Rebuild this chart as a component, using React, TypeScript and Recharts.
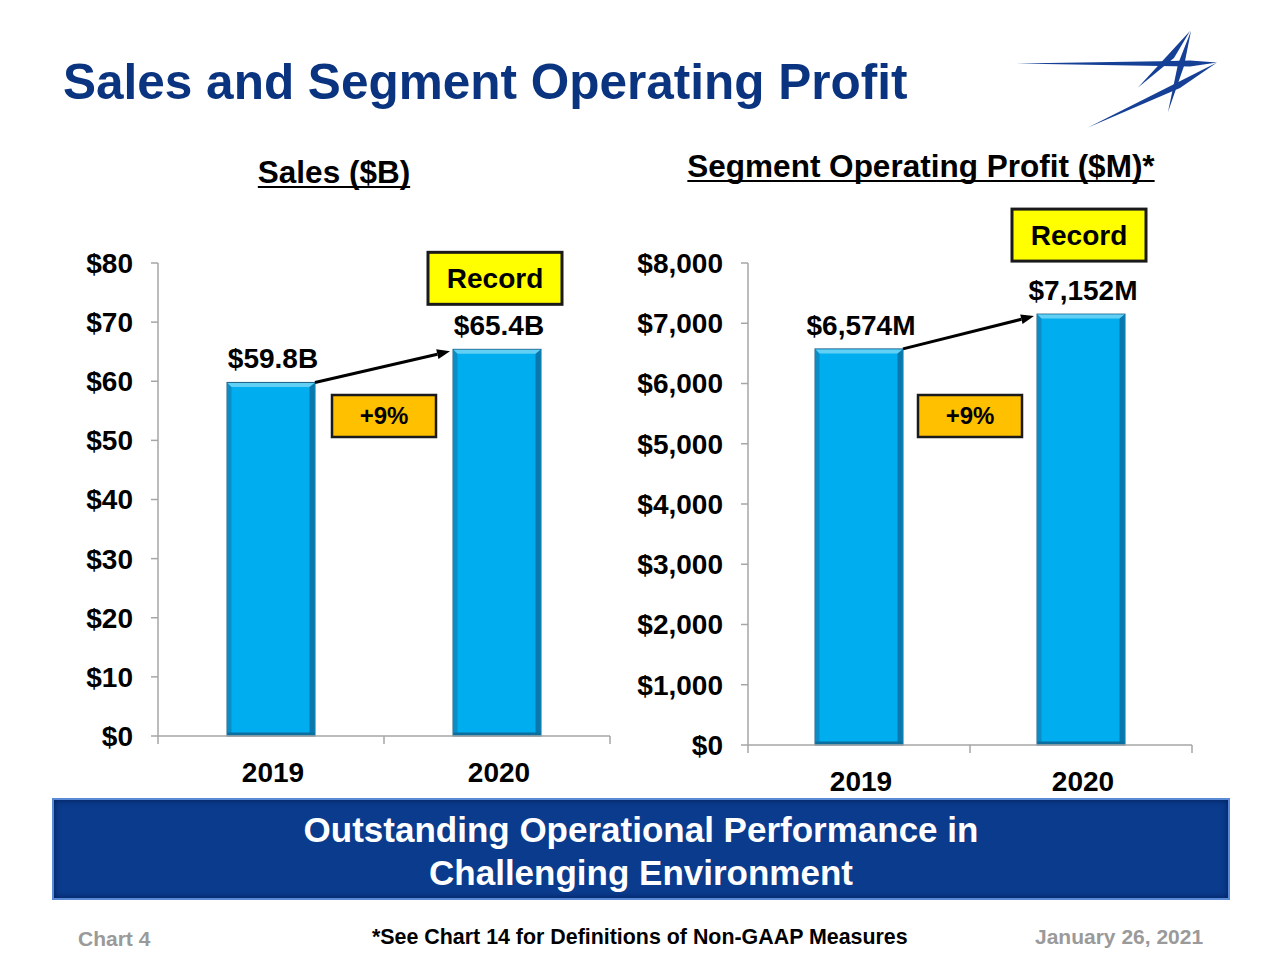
import React from 'react';
import { BarChart, Bar, XAxis, YAxis, LabelList } from 'recharts';

const FONT = '"Liberation Sans", Arial, Helvetica, sans-serif';

// --- data ---
const years = ['2019', '2020'];

const salesValues = [59.8, 65.4];
const salesLabels = ['$59.8B', '$65.4B'];
const salesTicks = [0, 10, 20, 30, 40, 50, 60, 70, 80];

const profitValues = [6574, 7152];
const profitLabels = ['$6,574M', '$7,152M'];
const profitTicks = [0, 1000, 2000, 3000, 4000, 5000, 6000, 7000, 8000];

const growthLabel = '+9%';
const recordLabel = 'Record';

const AXIS = '#a6a6a6';

type Panel = {
  values: number[];
  labels: string[];
  ticks: number[];
  fmt: (v: number) => string;
  left: number;
  margin: { top: number; right: number; bottom: number; left: number };
  band: number;
  recordGap: number;
};

const panels: Panel[] = [
  {
    values: salesValues,
    labels: salesLabels,
    ticks: salesTicks,
    fmt: (v) => `$${v}`,
    left: 0,
    margin: { top: 263, right: 30, bottom: 14, left: 58 },
    band: 226,
    recordGap: 45,
  },
  {
    values: profitValues,
    labels: profitLabels,
    ticks: profitTicks,
    fmt: (v) => `$${v.toLocaleString('en-US')}`,
    left: 600,
    margin: { top: 263, right: 48, bottom: 5, left: 48 },
    band: 222,
    recordGap: 53,
  },
];

// bar with bevelled edges; the first bar also draws the growth arrow and badge
function BevelBar(props: any) {
  const { x, y, width, height, index, payload, rows, band } = props;
  const next = rows[index + 1];
  let extra = null;
  if (next) {
    const base = y + height;
    const nextTop = base - (next.value * height) / payload.value;
    const nextLeft = x + band;
    const x1 = x + width;
    const y1 = y;
    const x2 = nextLeft - 3;
    const y2 = nextTop + 2;
    const ang = Math.atan2(y2 - y1, x2 - x1);
    const hl = 13;
    const hw = 5;
    const bx = x2 - hl * Math.cos(ang);
    const by = y2 - hl * Math.sin(ang);
    const px = -Math.sin(ang) * hw;
    const py = Math.cos(ang) * hw;
    const mid = (x1 + nextLeft) / 2;
    extra = (
      <g>
        <line x1={x1} y1={y1} x2={bx} y2={by} stroke="#000" strokeWidth={3} />
        <polygon points={`${x2},${y2} ${bx + px},${by + py} ${bx - px},${by - py}`} fill="#000" />
        <rect x={mid - 52} y={395} width={104} height={42} fill="#ffc000" stroke="#1a1a1a" strokeWidth={2.5} />
        <text x={mid} y={424} textAnchor="middle" fontFamily={FONT} fontWeight={700} fontSize={24} fill="#000">
          {growthLabel}
        </text>
      </g>
    );
  }
  return (
    <g>
      <rect x={x} y={y} width={width} height={height} fill="#00aeef" stroke="#1f6285" strokeWidth={1} />
      <rect x={x + 0.5} y={y + 0.5} width={4} height={height - 1} fill="#0b8dc6" />
      <rect x={x + width - 5.5} y={y + 0.5} width={5} height={height - 1} fill="#0a78ac" />
      <polygon
        points={`${x + 0.5},${y + 0.5} ${x + width - 0.5},${y + 0.5} ${x + width - 5.5},${y + 4.5} ${x + 4.5},${y + 4.5}`}
        fill="#62cff5"
      />
      <rect x={x + 0.5} y={y + height - 3.5} width={width - 1} height={3} fill="#0a6f9e" />
      {extra}
    </g>
  );
}

function ValueLabel(props: any) {
  const { x, y, width, value, index, last, recordGap } = props;
  const cx = x + width / 2;
  return (
    <g>
      <text x={cx + 2} y={y - 14} textAnchor="middle" fontFamily={FONT} fontWeight={700} fontSize={28} fill="#000">
        {value}
      </text>
      {index === last && (
        <g>
          <rect
            x={cx - 69}
            y={y - recordGap - 52}
            width={134}
            height={52}
            fill="#ffff00"
            stroke="#1a1a1a"
            strokeWidth={3}
          />
          <text
            x={cx - 2}
            y={y - recordGap - 16}
            textAnchor="middle"
            fontFamily={FONT}
            fontWeight={700}
            fontSize={28}
            fill="#000"
          >
            {recordLabel}
          </text>
        </g>
      )}
    </g>
  );
}

function YearTick(props: any) {
  const { x, y, payload, index, visibleTicksCount, band } = props;
  return (
    <g>
      <line x1={x - band / 2} x2={x - band / 2} y1={y} y2={y + 8} stroke={AXIS} strokeWidth={1.5} />
      {index === visibleTicksCount - 1 && (
        <line x1={x + band / 2} x2={x + band / 2} y1={y} y2={y + 8} stroke={AXIS} strokeWidth={1.5} />
      )}
      <text x={x + 2} y={y + 46} textAnchor="middle" fontFamily={FONT} fontWeight={700} fontSize={28} fill="#000">
        {payload.value}
      </text>
    </g>
  );
}

function PanelChart({ p }: { p: Panel }) {
  const rows = years.map((year, i) => ({ year, value: p.values[i], label: p.labels[i] }));
  const top = p.ticks[p.ticks.length - 1];
  return (
    <div style={{ position: 'absolute', left: p.left, top: 0 }}>
      <BarChart width={640} height={800} data={rows} margin={p.margin}>
        <XAxis
          dataKey="year"
          height={50}
          axisLine={{ stroke: AXIS, strokeWidth: 1.5 }}
          tickLine={false}
          tickSize={0}
          tickMargin={0}
          interval={0}
          tick={(t: any) => <YearTick {...t} band={p.band} />}
        />
        <YAxis
          width={100}
          domain={[0, top]}
          ticks={p.ticks}
          interval={0}
          tickFormatter={p.fmt}
          axisLine={{ stroke: AXIS, strokeWidth: 1.5 }}
          tickLine={{ stroke: AXIS, strokeWidth: 1.5 }}
          tickSize={7}
          tickMargin={18}
          tick={{ fill: '#000', fontSize: 28, fontWeight: 700, fontFamily: FONT }}
        />
        <Bar
          dataKey="value"
          barSize={88}
          isAnimationActive={false}
          shape={(s: any) => <BevelBar {...s} rows={rows} band={p.band} />}
        >
          <LabelList
            dataKey="label"
            content={(l: any) => <ValueLabel {...l} last={rows.length - 1} recordGap={p.recordGap} />}
          />
        </Bar>
      </BarChart>
    </div>
  );
}

function Logo() {
  const c = '#163f96';
  return (
    <svg width={1280} height={140} style={{ position: 'absolute', left: 0, top: 0 }}>
      <polygon points="1015,63.5 1160,61.2 1190,60.5 1217,62.5 1190,66.5 1160,66" fill={c} />
      <polygon points="1088,127.5 1217,62.5 1180,88" fill={c} />
      <polygon points="1190,31 1138,87.5 1174,58" fill={c} />
      <polygon points="1191,31 1184,66 1168,112 1178,64" fill={c} />
    </svg>
  );
}

const underline = {
  textDecoration: 'underline',
  textDecorationThickness: '2px',
  textUnderlineOffset: '3px',
  textDecorationSkipInk: 'none',
} as const;

export default function App() {
  return (
    <div
      style={{
        position: 'absolute',
        left: 0,
        top: 0,
        width: 1280,
        height: 960,
        background: '#fff',
        fontFamily: FONT,
        overflow: 'hidden',
      }}
    >
      <div
        style={{
          position: 'absolute',
          left: 63,
          top: 52,
          fontSize: 49.5,
          fontWeight: 700,
          color: '#0a347f',
          lineHeight: '60px',
          whiteSpace: 'nowrap',
        }}
      >
        Sales and Segment Operating Profit
      </div>
      <Logo />

      <div
        style={{
          position: 'absolute',
          left: 134,
          width: 400,
          top: 154,
          textAlign: 'center',
          fontSize: 31.5,
          fontWeight: 700,
          lineHeight: '36px',
          ...underline,
        }}
      >
        Sales ($B)
      </div>
      <div
        style={{
          position: 'absolute',
          left: 621,
          width: 600,
          top: 148,
          textAlign: 'center',
          fontSize: 31.5,
          fontWeight: 700,
          lineHeight: '36px',
          whiteSpace: 'nowrap',
          ...underline,
        }}
      >
        Segment Operating Profit ($M)*
      </div>

      {panels.map((p, i) => (
        <PanelChart key={i} p={p} />
      ))}

      <div
        style={{
          position: 'absolute',
          left: 52,
          top: 798,
          width: 1178,
          height: 102,
          boxSizing: 'border-box',
          background: '#0a3b8d',
          border: '2px solid #5a8ad6',
          boxShadow: 'inset 0 0 6px #021d55',
          color: '#fff',
          fontSize: 35,
          fontWeight: 700,
          textAlign: 'center',
          lineHeight: '43px',
          paddingTop: 8,
        }}
      >
        Outstanding Operational Performance in
        <br />
        Challenging Environment
      </div>

      <div style={{ position: 'absolute', left: 78, top: 927, fontSize: 21, fontWeight: 700, color: '#9a9a9a' }}>
        Chart 4
      </div>
      <div style={{ position: 'absolute', left: 372, top: 925, fontSize: 21.4, fontWeight: 700, color: '#000' }}>
        *See Chart 14 for Definitions of Non-GAAP Measures
      </div>
      <div style={{ position: 'absolute', left: 1035, top: 925, fontSize: 21, fontWeight: 700, color: '#9a9a9a' }}>
        January 26, 2021
      </div>
    </div>
  );
}
